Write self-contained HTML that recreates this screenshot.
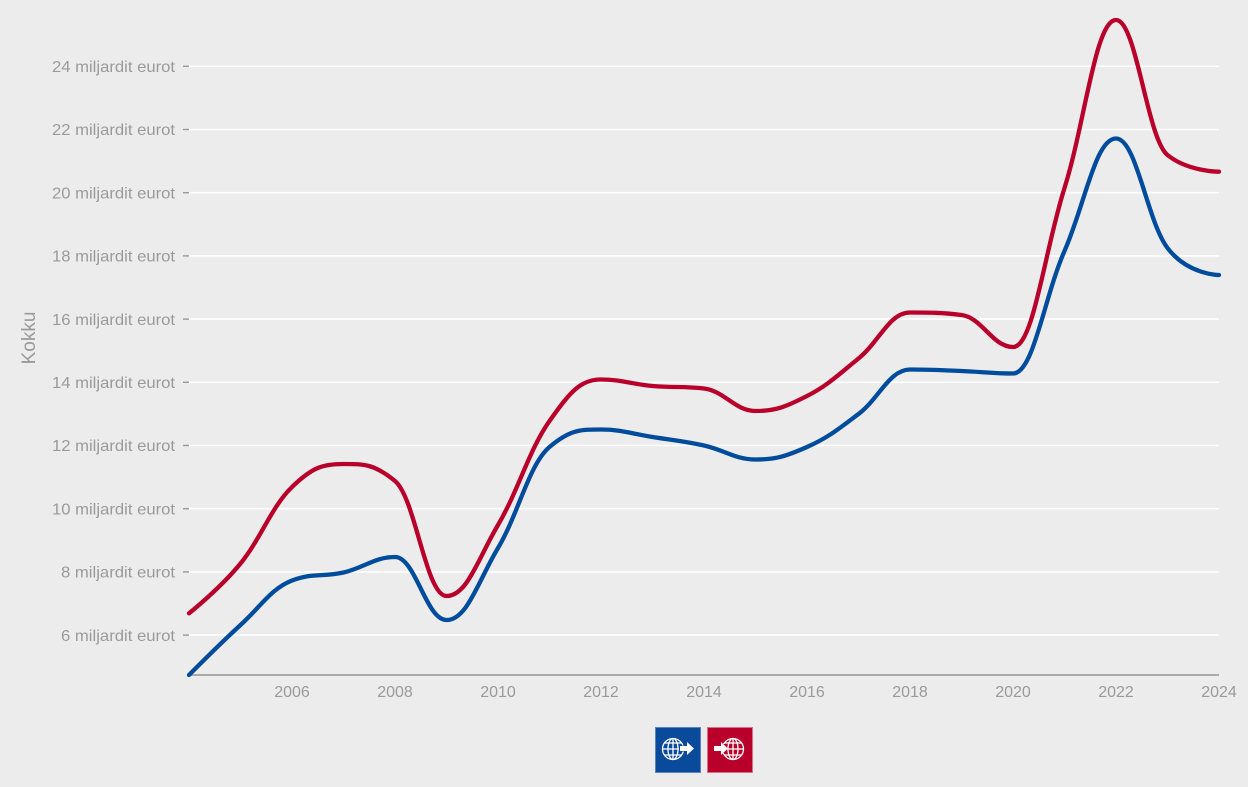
<!DOCTYPE html>
<html>
<head>
<meta charset="utf-8">
<style>
html,body{margin:0;padding:0;background:#ececec;}
svg{display:block;}
text{font-family:"Liberation Sans",Arial,sans-serif;fill:#9a9a9a;}
</style>
</head>
<body>
<svg id="chart" width="1248" height="787" viewBox="0 0 1248 787" xmlns="http://www.w3.org/2000/svg">
<rect x="0" y="0" width="1248" height="787" fill="#ececec"/>
<g stroke="#ffffff" stroke-width="1.6">
<line x1="189" y1="66.3" x2="1219" y2="66.3"/>
<line x1="189" y1="129.5" x2="1219" y2="129.5"/>
<line x1="189" y1="192.7" x2="1219" y2="192.7"/>
<line x1="189" y1="255.9" x2="1219" y2="255.9"/>
<line x1="189" y1="319.1" x2="1219" y2="319.1"/>
<line x1="189" y1="382.3" x2="1219" y2="382.3"/>
<line x1="189" y1="445.5" x2="1219" y2="445.5"/>
<line x1="189" y1="508.7" x2="1219" y2="508.7"/>
<line x1="189" y1="571.9" x2="1219" y2="571.9"/>
<line x1="189" y1="635.1" x2="1219" y2="635.1"/>
</g>
<g stroke="#9a9a9a" stroke-width="1.4">
<line x1="183" y1="66.3" x2="189" y2="66.3"/>
<line x1="183" y1="129.5" x2="189" y2="129.5"/>
<line x1="183" y1="192.7" x2="189" y2="192.7"/>
<line x1="183" y1="255.9" x2="189" y2="255.9"/>
<line x1="183" y1="319.1" x2="189" y2="319.1"/>
<line x1="183" y1="382.3" x2="189" y2="382.3"/>
<line x1="183" y1="445.5" x2="189" y2="445.5"/>
<line x1="183" y1="508.7" x2="189" y2="508.7"/>
<line x1="183" y1="571.9" x2="189" y2="571.9"/>
<line x1="183" y1="635.1" x2="189" y2="635.1"/>
</g>
<g font-size="16" text-anchor="end">
<text x="175" y="72" textLength="123" lengthAdjust="spacingAndGlyphs">24 miljardit eurot</text>
<text x="175" y="135.2" textLength="123" lengthAdjust="spacingAndGlyphs">22 miljardit eurot</text>
<text x="175" y="198.4" textLength="123" lengthAdjust="spacingAndGlyphs">20 miljardit eurot</text>
<text x="175" y="261.6" textLength="123" lengthAdjust="spacingAndGlyphs">18 miljardit eurot</text>
<text x="175" y="324.8" textLength="123" lengthAdjust="spacingAndGlyphs">16 miljardit eurot</text>
<text x="175" y="388" textLength="123" lengthAdjust="spacingAndGlyphs">14 miljardit eurot</text>
<text x="175" y="451.2" textLength="123" lengthAdjust="spacingAndGlyphs">12 miljardit eurot</text>
<text x="175" y="514.4" textLength="123" lengthAdjust="spacingAndGlyphs">10 miljardit eurot</text>
<text x="175" y="577.6" textLength="114" lengthAdjust="spacingAndGlyphs">8 miljardit eurot</text>
<text x="175" y="640.8" textLength="114" lengthAdjust="spacingAndGlyphs">6 miljardit eurot</text>
</g>
<text x="0" y="0" font-size="19" text-anchor="middle" transform="translate(35,338) rotate(-90)">Kokku</text>
<line x1="188" y1="675" x2="1219" y2="675" stroke="#aaaaaa" stroke-width="2"/>
<g font-size="16" text-anchor="middle">
<text x="292" y="697">2006</text>
<text x="395" y="697">2008</text>
<text x="498" y="697">2010</text>
<text x="601" y="697">2012</text>
<text x="704" y="697">2014</text>
<text x="807" y="697">2016</text>
<text x="910" y="697">2018</text>
<text x="1013" y="697">2020</text>
<text x="1116" y="697">2022</text>
<text x="1219" y="697">2024</text>
</g>
<path id="red" d="" fill="none" stroke="#b8002a" stroke-width="4.3" stroke-linejoin="round" stroke-linecap="round"/>
<path id="blue" d="" fill="none" stroke="#004c9c" stroke-width="4.3" stroke-linejoin="round" stroke-linecap="round"/>

<!-- legend icons -->
<g>
<rect x="655.5" y="727.5" width="45" height="45" fill="#0a4a9a" stroke="#5a84bf" stroke-width="1"/>
<g fill="none" stroke="#ffffff" stroke-width="1.3">
<circle cx="673" cy="749" r="10.5"/>
<ellipse cx="673" cy="749" rx="5" ry="10.5"/>
<line x1="673" y1="738.5" x2="673" y2="759.5"/>
<line x1="662.5" y1="749" x2="683.5" y2="749"/>
<line x1="664.5" y1="743" x2="681.5" y2="743"/>
<line x1="664.5" y1="755" x2="681.5" y2="755"/>
</g>
<rect x="679" y="745.5" width="8" height="6" fill="#0a4a9a"/>
<polygon points="680,746 687,746 687,742 694,748.5 687,755 687,751 680,751" fill="#ffffff"/>

<rect x="707.5" y="727.5" width="45" height="45" fill="#b8002a" stroke="#d8708a" stroke-width="1"/>
<g fill="none" stroke="#ffffff" stroke-width="1.3">
<circle cx="733" cy="749" r="10.5"/>
<ellipse cx="733" cy="749" rx="5" ry="10.5"/>
<line x1="733" y1="738.5" x2="733" y2="759.5"/>
<line x1="722.5" y1="749" x2="743.5" y2="749"/>
<line x1="724.5" y1="743" x2="741.5" y2="743"/>
<line x1="724.5" y1="755" x2="741.5" y2="755"/>
</g>
<rect x="713" y="744" width="14" height="9" fill="#b8002a"/>
<polygon points="714,746 721,746 721,742 728,748.5 721,755 721,751 714,751" fill="#ffffff"/>
</g>
</svg>
<script>
(function(){
  var x0=189, dx=51.5;
  var red=[613.3,563.5,487,464,481,596,525,421,379.5,386,388.5,411,396,358.5,312.5,315,347,188,20,155,171.7];
  var blue=[675,625,580.5,572.5,557,620,548,447,429.5,437,445.5,459.5,447,414,369.5,371,373.5,251,138.5,248,275];
  function spline(ys){
    var pts=ys.map(function(y,i){return [x0+i*dx,y];});
    var s=1.5,d=2.5;
    var path='M'+pts[0][0]+','+pts[0][1];
    var prevR=null;
    for(var i=1;i<pts.length;i++){
      var x=pts[i][0],y=pts[i][1],lx=pts[i-1][0],ly=pts[i-1][1];
      var lcx=x,lcy=y,rc=null;
      if(i<pts.length-1){
        var nx=pts[i+1][0],ny=pts[i+1][1];
        lcx=(s*x+lx)/d; lcy=(s*y+ly)/d;
        var rcx=(s*x+nx)/d, rcy=(s*y+ny)/d;
        var corr=0;
        if(rcx!==lcx) corr=((rcy-lcy)*(rcx-x))/(rcx-lcx)+y-rcy;
        lcy+=corr; rcy+=corr;
        if(lcy>ly&&lcy>y){lcy=Math.max(ly,y);rcy=2*y-lcy;}
        else if(lcy<ly&&lcy<y){lcy=Math.min(ly,y);rcy=2*y-lcy;}
        if(rcy>ny&&rcy>y){rcy=Math.max(ny,y);lcy=2*y-rcy;}
        else if(rcy<ny&&rcy<y){rcy=Math.min(ny,y);lcy=2*y-rcy;}
        rc=[rcx,rcy];
      }
      var p=prevR||[lx,ly];
      path+=' C'+p[0].toFixed(2)+','+p[1].toFixed(2)+' '+lcx.toFixed(2)+','+lcy.toFixed(2)+' '+x.toFixed(2)+','+y.toFixed(2);
      prevR=rc;
    }
    return path;
  }
  document.getElementById('red').setAttribute('d',spline(red));
  document.getElementById('blue').setAttribute('d',spline(blue));
})();
</script>
</body>
</html>
